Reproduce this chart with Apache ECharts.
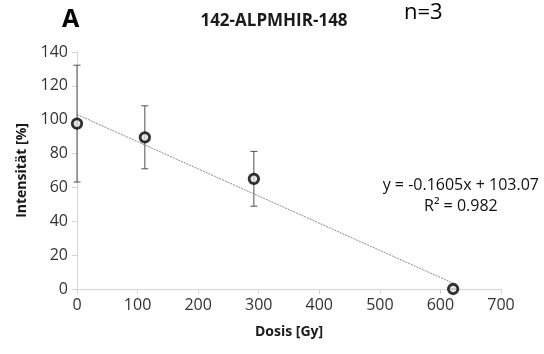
<!DOCTYPE html>
<html>
<head>
<meta charset="utf-8">
<script src="https://cdn.jsdelivr.net/npm/echarts@6/dist/echarts.min.js"></script>
<style>
  html, body { margin: 0; padding: 0; background: #fff; }
  #chart { width: 544px; height: 354px; }
</style>
</head>
<body>
<div id="chart"></div>
<script>
// Dose (Gy) vs. relative intensity (%) with standard deviation
const dose = [0, 112, 292, 621];
const intensity = [97.7, 89.6, 65.1, 0];
const errorSd = [34.5, 18.6, 16.2, 0];

// Linear fit as reported in the annotation
const slope = -0.1605;
const intercept = 103.07;
const rSquared = 0.982;

const xTicks = { min: 0, max: 700, interval: 100 };
const yTicks = { min: 0, max: 140, interval: 20 };

const font = '"Open Sans", "Noto Sans", sans-serif';

const points = dose.map((d, i) => [d, intensity[i]]);
const bars = dose.map((d, i) => [d, intensity[i] - errorSd[i], intensity[i] + errorSd[i]]);
const fitStart = 0;
const fitEnd = dose[dose.length - 1];
const fitLine = [
  [fitStart, slope * fitStart + intercept],
  [fitEnd, slope * fitEnd + intercept]
];
const eqText = 'y = ' + slope + 'x + ' + intercept;
const r2Text = 'R² = ' + rSquared;

const chart = echarts.init(document.getElementById('chart'), null, { renderer: 'canvas' });

chart.setOption({
  animation: false,
  backgroundColor: '#ffffff',
  title: {
    text: '142-ALPMHIR-148',
    left: 269,
    top: 8,
    textAlign: 'center',
    textStyle: { fontFamily: font, fontWeight: 'bold', fontSize: 17, color: '#1a1a1a' }
  },
  graphic: [
    {
      type: 'text', left: 62, top: 7,
      style: { text: 'A', font: 'bold 25px ' + font, fill: '#000' }
    },
    {
      type: 'text', left: 404, top: 2,
      style: { text: 'n=3', font: '22px ' + font, fill: '#000' }
    },
    {
      type: 'text', right: 5, top: 177,
      style: { text: eqText, font: '16px ' + font, fill: '#111' }
    },
    {
      type: 'text', left: 424, top: 198,
      style: { text: r2Text, font: '16px ' + font, fill: '#111' }
    }
  ],
  grid: { left: 77, right: 43, top: 52, bottom: 65 },
  xAxis: {
    type: 'value',
    min: xTicks.min, max: xTicks.max, interval: xTicks.interval,
    name: 'Dosis [Gy]',
    nameLocation: 'middle',
    nameGap: 36,
    nameTextStyle: { fontFamily: font, fontWeight: 'bold', fontSize: 14, color: '#1a1a1a' },
    axisLine: { show: true, lineStyle: { color: '#d4d4d4', width: 1 } },
    axisTick: { show: true, length: 5, lineStyle: { color: '#d4d4d4' } },
    axisLabel: { fontFamily: font, fontSize: 16, color: '#333', margin: 8 },
    splitLine: { show: false }
  },
  yAxis: {
    type: 'value',
    min: yTicks.min, max: yTicks.max, interval: yTicks.interval,
    name: 'Intensität [%]',
    nameLocation: 'middle',
    nameGap: 48,
    nameTextStyle: { fontFamily: font, fontWeight: 'bold', fontSize: 14, color: '#1a1a1a' },
    axisLine: { show: true, lineStyle: { color: '#d4d4d4', width: 1 } },
    axisTick: { show: true, length: 5, lineStyle: { color: '#d4d4d4' } },
    axisLabel: { fontFamily: font, fontSize: 16, color: '#333', margin: 9 },
    splitLine: { show: false }
  },
  series: [
    {
      name: 'Trend',
      type: 'line',
      data: fitLine,
      symbol: 'none',
      lineStyle: { color: '#8a8a8a', width: 1, type: [2, 1] },
      z: 2
    },
    {
      name: 'SD',
      type: 'custom',
      data: bars,
      z: 3,
      renderItem: function (params, api) {
        const x = api.value(0);
        const lo = api.coord([x, api.value(1)]);
        const hi = api.coord([x, api.value(2)]);
        const cap = 3.5;
        const style = { stroke: '#505050', lineWidth: 1 };
        return {
          type: 'group',
          children: [
            { type: 'line', shape: { x1: lo[0], y1: lo[1], x2: hi[0], y2: hi[1] }, style: style },
            { type: 'line', shape: { x1: hi[0] - cap, y1: hi[1], x2: hi[0] + cap, y2: hi[1] }, style: style },
            { type: 'line', shape: { x1: lo[0] - cap, y1: lo[1], x2: lo[0] + cap, y2: lo[1] }, style: style }
          ]
        };
      }
    },
    {
      name: 'Intensität',
      type: 'scatter',
      data: points,
      symbol: 'circle',
      symbolSize: 9.5,
      itemStyle: { color: '#e0e0e0', borderColor: '#000', borderWidth: 2.8 },
      z: 5
    }
  ]
});
</script>
</body>
</html>
